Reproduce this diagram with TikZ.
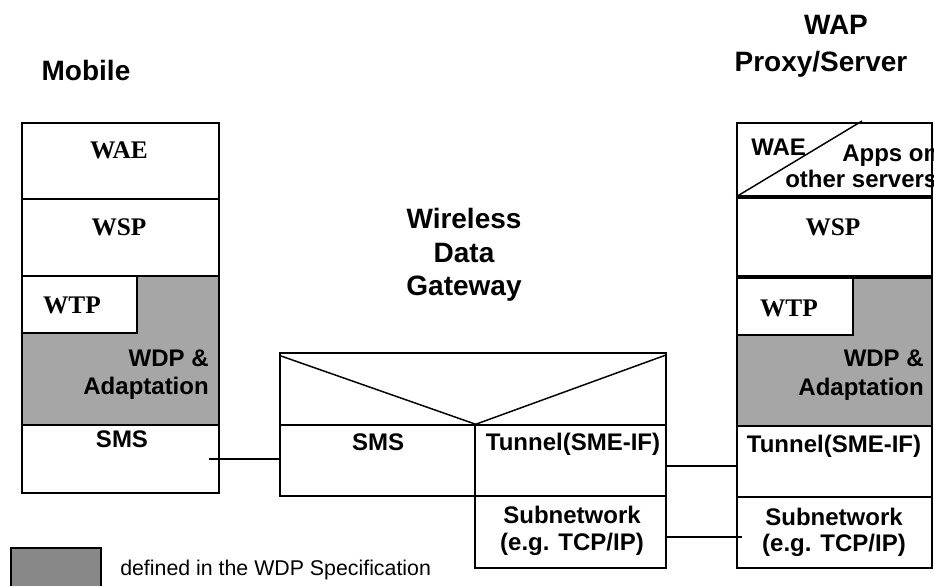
\documentclass[tikz,border=0pt]{standalone}
\usepackage{fontspec}
\setmainfont{Liberation Serif}
\setsansfont{Liberation Sans}
\usetikzlibrary{fit}
\definecolor{layergray}{RGB}{166,166,166}
\definecolor{legendgray}{RGB}{136,136,136}
\tikzset{
  box/.style={draw=black, line width=1.1pt, inner sep=0pt, fill=white},
  graybox/.style={box, fill=layergray},
  conn/.style={draw=black, line width=0.9pt},
  lbl/.style={font=\sffamily\bfseries\fontsize{18}{21.5}\selectfont, inner sep=0pt, anchor=base},
  slbl/.style={font=\rmfamily\bfseries\fontsize{19}{22}\selectfont, inner sep=0pt, anchor=base},
  hdr/.style={font=\sffamily\bfseries\fontsize{21}{25}\selectfont, inner sep=0pt, anchor=base},
}
\begin{document}
\begin{tikzpicture}[x=0.75pt,y=-0.75pt]
\useasboundingbox (0,0) rectangle (934,585);
% headings
\node[hdr] (hmob) at (86,80) {Mobile};
\node[hdr] (hwap) at (836,35) {WAP};
\node[hdr] (hprx) at (821,72) {Proxy/Server};
\node[hdr] (hw1) at (464,228) {Wireless};
\node[hdr] (hw2) at (464,262) {Data};
\node[hdr] (hw3) at (464,295) {Gateway};
% mobile stack
\node[box, fit={(22,123) (219,199)}] (mwae) {};
\node[box, fit={(22,199) (219,276)}] (mwsp) {};
\node[graybox, fit={(22,276) (219,425)}] (mwdp) {};
\node[box, fit={(22,276) (137,333)}] (mwtp) {};
\node[box, fit={(22,425) (219,493)}] (msms) {};
\node[slbl] (tmwae) at (119,158) {WAE};
\node[slbl] (tmwsp) at (119,235) {WSP};
\node[slbl] (tmwtp) at (72,313) {WTP};
\node[lbl, anchor=base east] (tmwdp1) at (209,366) {WDP \&};
\node[lbl, anchor=base east] (tmwdp2) at (209,394) {Adaptation};
\node[lbl] (tmsms) at (122,447) {SMS};
% gateway
\node[box, fit={(280,353) (666,425)}] (gtop) {};
\node[box, fit={(280,425) (475,496)}] (gsms) {};
\node[box, fit={(475,425) (666,496)}] (gtun) {};
\node[box, fit={(475,496) (666,568)}] (gsub) {};
\draw[line width=1.1pt] (281,356) -- (gsms.north east) -- (666,355);
\node[lbl] (tgsms) at (378,450) {SMS};
\node[lbl] (tgtun) at (573,450) {Tunnel(SME-IF)};
\node[lbl] (tgsub1) at (572,523) {Subnetwork};
\node[lbl] (tgsub2) at (572,550) {(e.g. TCP/IP)};
% server stack
\node[box, fit={(737,123) (932,196)}] (swae) {};
\draw[line width=1.1pt] (swae.south west) -- (862,121);
\node[box, fit={(737,198) (932,276)}] (swsp) {};
\node[graybox, fit={(737,278) (932,426)}] (swdp) {};
\node[box, fit={(737,278) (853,335)}] (swtp) {};
\node[box, fit={(737,426) (932,497)}] (stun) {};
\node[box, fit={(737,497) (932,568)}] (ssub) {};
\node[lbl, anchor=base west] (tswae) at (751,155) {WAE};
\node[lbl, anchor=base west] (tsapp1) at (842,161) {Apps on};
\node[lbl, anchor=base west] (tsapp2) at (785,187) {other servers};
\node[slbl] (tswsp) at (833,235) {WSP};
\node[slbl] (tswtp) at (789,316) {WTP};
\node[lbl, anchor=base east] (tswdp1) at (924,366) {WDP \&};
\node[lbl, anchor=base east] (tswdp2) at (924,395) {Adaptation};
\node[lbl] (tstun) at (834,452) {Tunnel(SME-IF)};
\node[lbl] (tssub1) at (834,525) {Subnetwork};
\node[lbl] (tssub2) at (834,551) {(e.g. TCP/IP)};
% connectors
\coordinate (c1) at (209,459);
\draw[conn] (c1) -- (c1 -| gsms.west);
\coordinate (c2) at (666,466);
\draw[conn] (c2) -- (c2 -| stun.west);
\coordinate (c3) at (742,537);
\draw[conn] (c3 -| gsub.east) -- (c3);
% legend
\node[draw=black, line width=1pt, fill=legendgray, inner sep=0pt, fit={(11,548) (101,592)}] (leg) {};
\node[font=\sffamily\fontsize{16}{19}\selectfont, inner sep=0pt, anchor=base west] (legt) at (120,575) {defined in the WDP Specification};
\end{tikzpicture}
\end{document}
